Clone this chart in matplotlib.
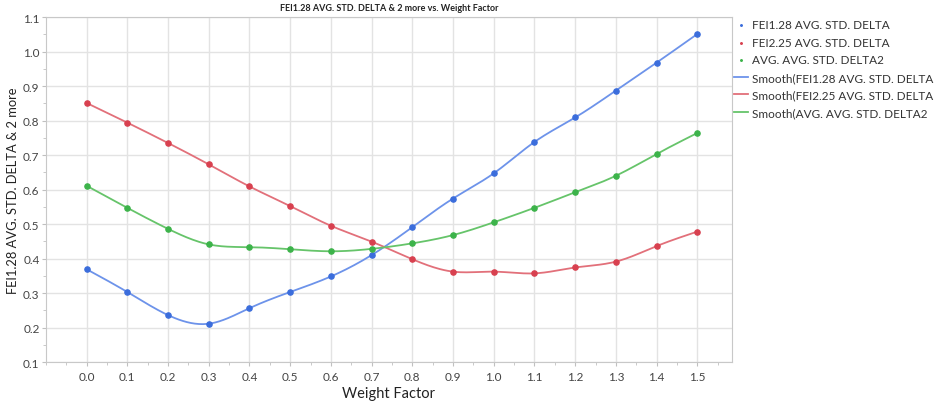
import numpy as np
import matplotlib.pyplot as plt
from matplotlib.ticker import MultipleLocator

plt.rcParams['font.family'] = ['Lato', 'DejaVu Sans']

weight = [0.0, 0.1, 0.2, 0.3, 0.4, 0.5, 0.6, 0.7, 0.8, 0.9, 1.0, 1.1, 1.2, 1.3, 1.4, 1.5]
fei128 = [0.369, 0.303, 0.236, 0.211, 0.256, 0.303, 0.348, 0.410, 0.491, 0.574,
          0.647, 0.738, 0.809, 0.887, 0.968, 1.051]
fei225 = [0.851, 0.794, 0.735, 0.673, 0.609, 0.552, 0.495, 0.449, 0.398, 0.362,
          0.362, 0.357, 0.374, 0.391, 0.436, 0.478]
avg2 = [0.611, 0.547, 0.486, 0.441, 0.433, 0.427, 0.421, 0.428, 0.444, 0.468,
        0.505, 0.547, 0.592, 0.640, 0.703, 0.764]

names = ['FEI1.28 AVG. STD. DELTA', 'FEI2.25 AVG. STD. DELTA', 'AVG. AVG. STD. DELTA2']
pt_colors = ['#3b6ddc', '#d8404f', '#3cb34a']
ln_colors = ['#6d93ea', '#e2707a', '#66c46a']


def spline(x, y, n=300):
    # natural cubic spline through the points
    x = np.asarray(x, float)
    y = np.asarray(y, float)
    h = np.diff(x)
    m = len(x)
    A = np.zeros((m, m))
    b = np.zeros(m)
    A[0, 0] = A[-1, -1] = 1
    for i in range(1, m - 1):
        A[i, i - 1] = h[i - 1]
        A[i, i] = 2 * (h[i - 1] + h[i])
        A[i, i + 1] = h[i]
        b[i] = 6 * ((y[i + 1] - y[i]) / h[i] - (y[i] - y[i - 1]) / h[i - 1])
    M = np.linalg.solve(A, b)
    xs = np.linspace(x[0], x[-1], n)
    idx = np.clip(np.searchsorted(x, xs) - 1, 0, m - 2)
    x0, x1 = x[idx], x[idx + 1]
    hh = x1 - x0
    t0, t1 = x1 - xs, xs - x0
    ys = (M[idx] * t0 ** 3 + M[idx + 1] * t1 ** 3) / (6 * hh) \
        + (y[idx] / hh - M[idx] * hh / 6) * t0 + (y[idx + 1] / hh - M[idx + 1] * hh / 6) * t1
    return xs, ys


fig = plt.figure(figsize=(9.36, 4.02), dpi=100)
ax = fig.add_axes([0.049, 0.097, 0.733, 0.858])

series = [fei128, fei225, avg2]
pts = []
lns = []
for s, name, pc, lc in zip(series, names, pt_colors, ln_colors):
    xs, ys = spline(weight, s)
    l, = ax.plot(xs, ys, color=lc, lw=1.3, label='Smooth(' + name, zorder=2)
    p = ax.scatter(weight, s, s=14, color=pc, zorder=3, label=name)
    pts.append(p)
    lns.append(l)

ax.set_xlim(-0.1, 1.585)
ax.set_ylim(0.1, 1.1)
ax.set_xticks(weight)
ax.set_xticklabels(['%.1f' % w for w in weight])
ax.xaxis.set_minor_locator(MultipleLocator(0.05))
ax.yaxis.set_major_locator(MultipleLocator(0.1))
ax.yaxis.set_minor_locator(MultipleLocator(0.05))
ax.grid(True, which='major', color='#e3e3e3', lw=1)
ax.set_axisbelow(True)
for sp in ax.spines.values():
    sp.set_color('#c8c8c8')
ax.tick_params(which='both', colors='#c0c0c0', labelcolor='#444444', labelsize=8.5)
ax.tick_params(which='major', length=3)
ax.tick_params(which='minor', length=2)
ax.tick_params(axis='y', pad=1.5)

ax.set_xlabel('Weight Factor', fontsize=10.5, color='#222222', labelpad=3)
ax.set_ylabel('FEI1.28 AVG. STD. DELTA & 2 more', fontsize=9.3, color='#222222', labelpad=3)
ax.set_title('FEI1.28 AVG. STD. DELTA & 2 more vs. Weight Factor',
             fontsize=6.5, fontweight='bold', color='#222222', pad=5)

leg = ax.legend(pts + lns, [p.get_label() for p in pts] + [l.get_label() for l in lns],
                loc='upper left', bbox_to_anchor=(1.0, 1.0), frameon=False,
                fontsize=8.5, handlelength=1.2, handletextpad=0.3,
                labelspacing=0.55, markerscale=0.3, borderaxespad=0.0, borderpad=0.2)
for t in leg.get_texts():
    t.set_color('#333333')

fig.savefig('out.png', dpi=100)
